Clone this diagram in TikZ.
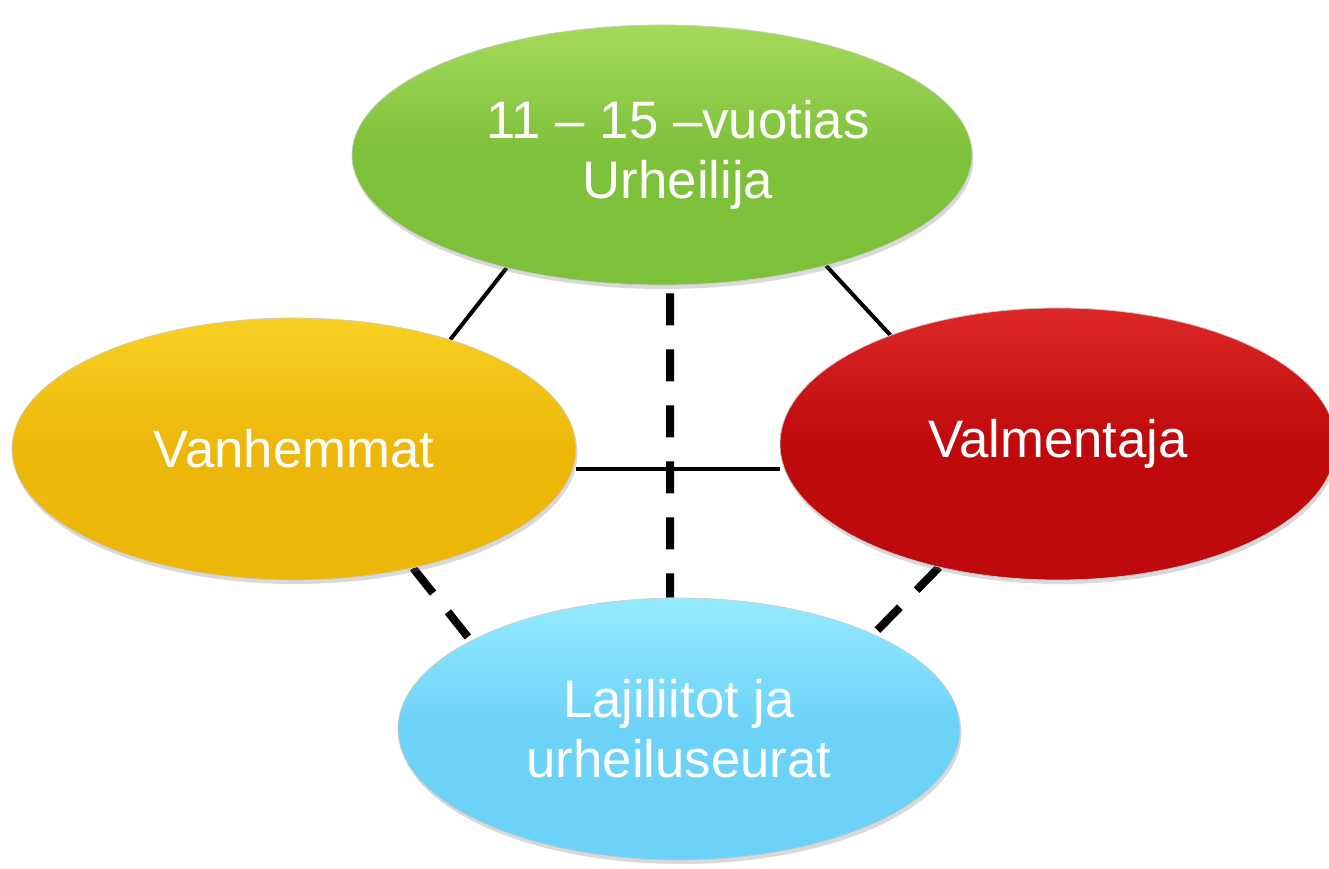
\documentclass[tikz,border=0pt]{standalone}
\usepackage{fontspec}
\setmainfont{Liberation Sans}
\usetikzlibrary{shapes.geometric,shadows,backgrounds}

\definecolor{athletegreen}{RGB}{125,192,58}
\definecolor{athletelight}{RGB}{165,218,90}
\definecolor{parentyellow}{RGB}{237,183,10}
\definecolor{parentlight}{RGB}{248,208,35}
\definecolor{coachred}{RGB}{190,10,12}
\definecolor{coachlight}{RGB}{222,40,40}
\definecolor{clubblue}{RGB}{108,210,248}
\definecolor{clublight}{RGB}{150,234,255}

\begin{document}
\begin{tikzpicture}[
  party/.style={ellipse, draw=black!20, line width=0.4pt, text=white, align=center,
    inner sep=0pt, font=\fontsize{30}{34}\selectfont,
    drop shadow={shadow xshift=0.03cm, shadow yshift=-0.08cm, opacity=0.3}},
  link/.style={line width=0.08cm},
  weaklink/.style={line width=0.16cm, dash pattern=on 0.64cm off 0.48cm}]
  \useasboundingbox (0,0) rectangle (26.58,17.38);

  % Nodes for the parties
  \node[party, minimum width=12.4cm, minimum height=5.2cm,
    top color=athletelight, bottom color=athletegreen, middle color=athletegreen]
    (athlete) at (13.24,14.28) {\hspace*{0.64cm}11 – 15 –vuotias\\\hspace*{0.64cm}Urheilija};
  \node[party, minimum width=11.28cm, minimum height=5.24cm,
    top color=parentlight, bottom color=parentyellow, middle color=parentyellow]
    (parents) at (5.88,8.40) {Vanhemmat};
  \node[party, minimum width=11.12cm, minimum height=5.44cm,
    top color=coachlight, bottom color=coachred, middle color=coachred]
    (coach) at (21.16,8.50) {Valmentaja};
  \node[party, minimum width=11.24cm, minimum height=5.24cm,
    top color=clublight, bottom color=clubblue, middle color=clubblue]
    (clubs) at (13.58,2.80) {Lajiliitot ja\\urheiluseurat};

  \begin{scope}[on background layer]
    % Solid links
    \draw[link] (athlete.216.5) -- (parents.35.6);
    \draw[link] (athlete.326.4) -- (coach.147);
    \draw[link] ([yshift=-0.4cm]parents.east) -- ([yshift=-0.5cm]coach.west);

    % Dashed links to the clubs
    \draw[weaklink, dash phase=0.96cm] ([xshift=0.16cm]athlete.south) -- ([xshift=-0.18cm]clubs.north);
    \draw[weaklink] (parents.315) -- (clubs.157.3);
    \draw[weaklink] (coach.226.4) -- (clubs.26.2);
  \end{scope}
\end{tikzpicture}
\end{document}
